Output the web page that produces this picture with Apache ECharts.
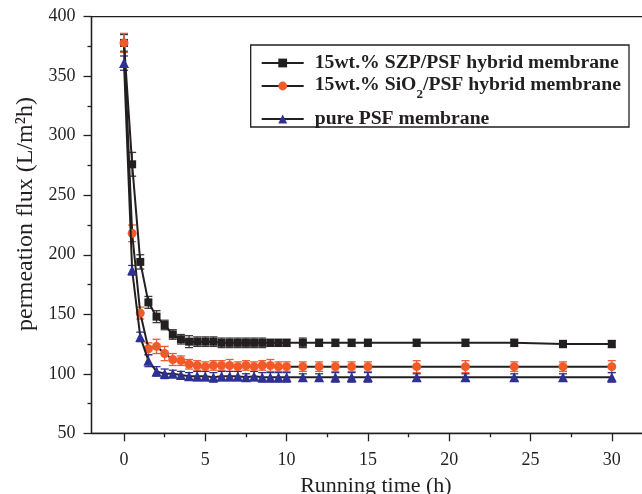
<!DOCTYPE html>
<html>
<head>
<meta charset="utf-8">
<script src="https://cdn.jsdelivr.net/npm/echarts@6/dist/echarts.min.js"></script>
<style>html,body{margin:0;padding:0;background:#fff}#c{width:642px;height:494px}</style>
</head>
<body>
<div id="c"></div>
<script>
var times = [0,0.5,1,1.5,2,2.5,3,3.5,4,4.5,5,5.5,6,6.5,7,7.5,8,8.5,9,9.5,10,11,12,13,14,15,18,21,24,27,30];
var fluxSZP  = [378,276,194,160,148,141,133,129,127,127,127,127,126,126,126,126,126,126,126,126,126,126,126,126,126,126,126,126,126,125,125];
var errSZP   = [7,10,6,5,5,4,4,4,5,4,4,4,4,4,4,4,4,4,3,3,3,4,3,3,3,3,3,3,3,3,3];
var fluxSiO2 = [378,218,151,121,123,117,112,111,108,107,106,107,107,107,106,107,106,107,107,106,106,106,106,106,106,106,106,106,106,106,106];
var errSiO2  = [8,7,5,5,6,6,5,4,4,4,4,4,4,5,4,4,4,4,5,4,4,4,4,4,4,4,5,5,4,4,5];
var fluxPSF  = [361,187,131,111,102,100,100,99,98,98,98,97,98,98,98,97,98,97,97,97,97,97,97,97,97,97,97,97,97,97,97];
var errPSF   = [6,4,4,5,4,4,3,3,3,4,4,4,4,4,4,3,4,4,4,4,4,3,3,4,4,4,3,3,3,3,4];
var xTicks = [0,5,10,15,20,25,30];
var seriesNames = ['15wt.% SZP/PSF hybrid membrane','15wt.% SiO2/PSF hybrid membrane','pure PSF membrane'];

var BLACK = '#231f20', ORANGE = '#f15a29', BLUE = '#2e3192';
var SERIF = '"Liberation Serif","Times New Roman",serif';
var LFS = 19.7;

function pairs(v){ return times.map(function(t,i){return [t, v[i]];}); }
function errs(v,e){ return times.map(function(t,i){return [t, v[i]-e[i], v[i]+e[i]];}); }

function errSeries(data, color){
  return {
    type:'custom', data:data, z:1, silent:true,
    renderItem:function(params, api){
      var x = api.value(0), lo = api.value(1), hi = api.value(2);
      var a = api.coord([x, hi]), b = api.coord([x, lo]);
      var w = 4;
      var st = {stroke: color, lineWidth: 1.3};
      return {type:'group', children:[
        {type:'line', shape:{x1:a[0],y1:a[1],x2:b[0],y2:b[1]}, style:st},
        {type:'line', shape:{x1:a[0]-w,y1:a[1],x2:a[0]+w,y2:a[1]}, style:st},
        {type:'line', shape:{x1:b[0]-w,y1:b[1],x2:b[0]+w,y2:b[1]}, style:st}
      ]};
    },
    encode:{x:0, y:[1,2]}
  };
}

function legendAt(name, top, fmt){
  var l = {
    data:[name], left:260.7, top:top, orient:'vertical', padding:0,
    itemWidth:42, itemHeight:11, selectedMode:false,
    textStyle:{fontFamily:SERIF, fontWeight:'bold', fontSize:LFS, color:BLACK, padding:[0,0,0,6]}
  };
  if (fmt) { l.formatter = fmt.f; l.textStyle.rich = fmt.rich; }
  return l;
}

var chart = echarts.init(document.getElementById('c'), null, {renderer:'canvas'});
var option = {
  animation:false,
  backgroundColor:'#fff',
  grid:{left:91.5, top:16.7, width:552.8, height:416.6, show:true, borderColor:BLACK, borderWidth:1.3,
        backgroundColor:'transparent', containLabel:false, outerBoundsMode:'none'},
  legend:[
    legendAt(seriesNames[0], 53),
    legendAt(seriesNames[1], 75, {
      f:function(){ return '{b|15wt.% SiO}{s|2}{b|/PSF hybrid membrane}'; },
      rich:{
        b:{fontFamily:SERIF, fontWeight:'bold', fontSize:LFS, color:BLACK, lineHeight:22, verticalAlign:'top'},
        s:{fontFamily:SERIF, fontWeight:'bold', fontSize:13, color:BLACK, lineHeight:14, padding:[13,0,0,0], verticalAlign:'top'}
      }
    }),
    legendAt(seriesNames[2], 109)
  ],
  graphic:[{type:'rect', shape:{x:250.7, y:45, width:378.3, height:82}, style:{fill:'none', stroke:BLACK, lineWidth:1.3}, z:10}],
  xAxis:{
    type:'value', min:-2, max:32,
    name:'Running time (h)', nameLocation:'middle', nameGap:42,
    nameTextStyle:{fontFamily:SERIF, fontSize:22, color:BLACK, padding:[0,0,0,16]},
    axisLine:{show:true, onZero:false, lineStyle:{color:BLACK, width:1.3}},
    axisTick:{show:true, inside:false, length:8, lineStyle:{color:BLACK, width:1.3}, customValues:xTicks},
    minorTick:{show:true, splitNumber:2, length:4, lineStyle:{color:BLACK, width:1.3}},
    axisLabel:{margin:18, fontFamily:SERIF, fontSize:18, color:BLACK, customValues:xTicks},
    splitLine:{show:false}, minorSplitLine:{show:false}
  },
  yAxis:{
    type:'value', min:50, max:400, interval:50,
    name:'permeation flux (L/m\u00b2h)', nameLocation:'middle', nameGap:42,
    nameTextStyle:{fontFamily:SERIF, fontSize:24, color:BLACK, padding:[0,0,0,22]},
    axisLine:{show:true, onZero:false, lineStyle:{color:BLACK, width:1.3}},
    axisTick:{show:true, inside:false, length:8, lineStyle:{color:BLACK, width:1.3}},
    minorTick:{show:true, splitNumber:2, length:4, lineStyle:{color:BLACK, width:1.3}},
    axisLabel:{margin:16, fontFamily:SERIF, fontSize:18, color:BLACK},
    splitLine:{show:false}
  },
  series:[
    errSeries(errs(fluxSZP, errSZP), '#3a3a3a'),
    errSeries(errs(fluxSiO2, errSiO2), ORANGE),
    errSeries(errs(fluxPSF, errPSF), BLUE),
    {name:seriesNames[0], type:'line', data:pairs(fluxSZP), symbol:'rect', symbolSize:8, z:3,
     lineStyle:{color:BLACK, width:2}, itemStyle:{color:BLACK}},
    {name:seriesNames[1], type:'line', data:pairs(fluxSiO2), symbol:'circle', symbolSize:9, z:4,
     lineStyle:{color:BLACK, width:2}, itemStyle:{color:ORANGE}},
    {name:seriesNames[2], type:'line', data:pairs(fluxPSF), symbol:'triangle', symbolSize:10, z:5,
     lineStyle:{color:BLACK, width:2}, itemStyle:{color:BLUE}}
  ]
};
chart.setOption(option);
</script>
</body>
</html>
